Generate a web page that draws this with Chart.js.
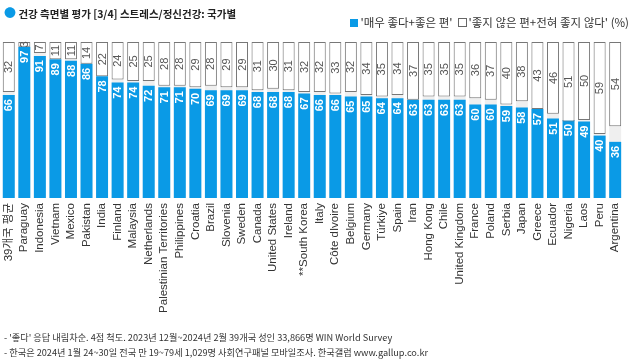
<!DOCTYPE html>
<html>
<head>
<meta charset="utf-8">
<script src="https://cdn.jsdelivr.net/npm/chart.js@4"></script>
<style>
  body { margin: 0; background: #fff; font-family: "Liberation Sans", "Noto Sans CJK KR", sans-serif; }
  #wrap { position: relative; width: 634px; height: 364px; overflow: hidden; }
  #chartBox { position: absolute; left: 0; top: 0; width: 634px; height: 364px; }
  .title { position: absolute; left: 4px; top: 4px; font-size: 10.5px; font-weight: bold; color: #222; font-family: "Noto Sans CJK KR", sans-serif; }
  .title .dot { color: #0a9ae6; font-size: 12px; }
  .legend { position: absolute; right: 5px; top: 14px; font-size: 11.5px; color: #333; font-family: "Noto Sans CJK KR", sans-serif; }
  .legend .sq { display: inline-block; width: 8px; height: 8px; vertical-align: 0px; margin-right: 2px; }
  .footer { position: absolute; left: 4px; font-size: 9.2px; color: #333; font-family: "Noto Sans CJK KR", sans-serif; }
</style>
</head>
<body>
<div id="wrap">
  <div id="chartBox"><canvas id="chart"></canvas></div>
  <div class="title"><span class="dot">●</span> 건강 측면별 평가 [3/4] 스트레스/정신건강: 국가별</div>
  <div class="legend"><span class="sq" style="background:#0a9ae6"></span>'매우 좋다+좋은 편' &nbsp;<span class="sq" style="background:#fff;border:1px solid #666;width:7px;height:7px"></span>'좋지 않은 편+전혀 좋지 않다' (%)</div>
  <div class="footer" style="top:330px">- '좋다' 응답 내림차순. 4점 척도. 2023년 12월~2024년 2월 39개국 성인 33,866명 WIN World Survey</div>
  <div class="footer" style="top:345px">- 한국은 2024년 1월 24~30일 전국 만 19~79세 1,029명 사회연구패널 모바일조사. 한국갤럽 www.gallup.co.kr</div>
</div>
<script>
const countries = ['39개국 평균', 'Paraguay', 'Indonesia', 'Vietnam', 'Mexico', 'Pakistan', 'India', 'Finland', 'Malaysia', 'Netherlands',
  'Palestinian Territories', 'Philippines', 'Croatia', 'Brazil', 'Slovenia', 'Sweden', 'Canada', 'United States', 'Ireland', '**South Korea',
  'Italy', 'Côte dIvoire', 'Belgium', 'Germany', 'Türkiye', 'Spain', 'Iran', 'Hong Kong', 'Chile', 'United Kingdom',
  'France', 'Poland', 'Serbia', 'Japan', 'Greece', 'Ecuador', 'Nigeria', 'Laos', 'Peru', 'Argentina'];

const good = [66, 97, 91, 89, 88, 86, 78, 74, 74, 72,
  71, 71, 70, 69, 69, 69, 68, 68, 68, 67,
  66, 66, 65, 65, 64, 64, 63, 63, 63, 63,
  60, 60, 59, 58, 57, 51, 50, 49, 40, 36];

const bad = [32, 3, 7, 11, 11, 14, 22, 24, 25, 25,
  28, 28, 29, 28, 29, 29, 31, 30, 31, 32,
  32, 33, 32, 34, 35, 34, 37, 35, 35, 35,
  36, 37, 40, 38, 43, 46, 51, 50, 59, 54];

const total = countries.map(() => 100);

const blue = '#0a9ae6';

// 값 라벨 (세로 글씨)
const valueLabels = {
  id: 'valueLabels',
  afterDatasetsDraw(chart) {
    const ctx = chart.ctx;
    ctx.save();
    const goodMeta = chart.getDatasetMeta(1);
    const badMeta = chart.getDatasetMeta(0);
    goodMeta.data.forEach((bar, i) => {
      ctx.save();
      ctx.translate(bar.x, bar.y + 4);
      ctx.rotate(-Math.PI / 2);
      ctx.font = 'bold 11px "Liberation Sans", sans-serif';
      ctx.fillStyle = '#fff';
      ctx.textAlign = 'right';
      ctx.textBaseline = 'middle';
      ctx.fillText(good[i], 0, 0.5);
      ctx.restore();
    });
    badMeta.data.forEach((bar, i) => {
      ctx.save();
      ctx.translate(bar.x, (bar.y + bar.base) / 2);
      ctx.rotate(-Math.PI / 2);
      ctx.font = '11px "Liberation Sans", sans-serif';
      ctx.fillStyle = '#555';
      ctx.textAlign = 'center';
      ctx.textBaseline = 'middle';
      ctx.fillText(bad[i], 0, 0.5);
      ctx.restore();
    });
    ctx.restore();
  }
};

new Chart(document.getElementById('chart'), {
  type: 'bar',
  data: {
    labels: countries,
    datasets: [
      {
        label: 'bad',
        data: bad.map(v => [100 - v, 100]),
        backgroundColor: '#fff',
        borderColor: '#777',
        borderWidth: 1,
        borderSkipped: false,
        grouped: false,
        order: 0
      },
      {
        label: 'good',
        data: good,
        backgroundColor: blue,
        borderWidth: 0,
        grouped: false,
        order: 1
      },
      {
        label: 'rest',
        data: total,
        backgroundColor: '#efefef',
        borderWidth: 0,
        grouped: false,
        order: 2
      }
    ]
  },
  options: {
    responsive: true,
    maintainAspectRatio: false,
    animation: false,
    layout: { padding: { top: 42, left: 1, right: 2, bottom: 46 } },
    datasets: { bar: { categoryPercentage: 1, barPercentage: 0.77 } },
    plugins: {
      legend: { display: false },
      tooltip: { enabled: false }
    },
    scales: {
      x: {
        grid: { display: false, drawTicks: false },
        border: { display: false },
        afterFit(scale) { scale.height = 120; },
        ticks: {
          autoSkip: false,
          maxRotation: 90,
          minRotation: 90,
          padding: 5,
          color: '#333',
          font: { size: 11.5, family: '"Liberation Sans", "Noto Sans CJK KR", sans-serif' }
        }
      },
      y: {
        display: false,
        min: 0,
        max: 100
      }
    }
  },
  plugins: [valueLabels]
});
</script>
</body>
</html>
